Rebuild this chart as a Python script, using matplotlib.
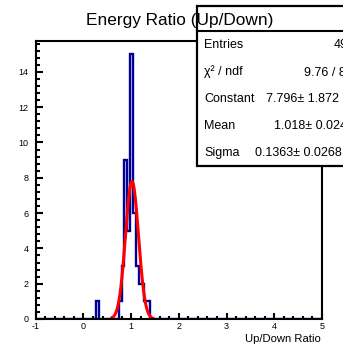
import numpy as np
import matplotlib
matplotlib.use("Agg")
import matplotlib.pyplot as plt
from matplotlib.patches import Rectangle
from matplotlib.lines import Line2D
from matplotlib.ticker import MultipleLocator

plt.rcParams['font.family'] = ['Liberation Sans', 'DejaVu Sans']

# ---- data ----
n_bins = 100
x_min, x_max = -1.0, 5.0
bin_lo = [0.26, 0.74, 0.80, 0.86, 0.92, 0.98, 1.04, 1.10, 1.16, 1.22, 1.28, 1.34]
bin_counts = [1, 1, 3, 9, 5, 15, 6, 3, 2, 2, 1, 1]

fit_constant = 7.796
fit_mean = 1.018
fit_sigma = 0.1363
fit_range = (0.60, 1.45)

stat_labels = ["Entries", "χ² / ndf", "Constant", "Mean", "Sigma"]
stat_values = ["49", "9.76 / 8", "7.796± 1.872", "1.018± 0.0246", "0.1363± 0.0268"]

title = "Energy Ratio (Up/Down)"
xlabel = "Up/Down Ratio"

# ---- figure ----
W, H = 343, 348
fig = plt.figure(figsize=(W / 100, H / 100), dpi=100)
fig.patch.set_facecolor('white')

def fx(px):
    return px / W

def fy(py):
    return 1 - py / H

ax_l, ax_r, ax_t, ax_b = 35.7, 322.0, 41.0, 319.0
ax = fig.add_axes([fx(ax_l), fy(ax_b), (ax_r - ax_l) / W, (ax_b - ax_t) / H])

edges = np.linspace(x_min, x_max, n_bins + 1)
counts = np.zeros(n_bins)
for lo, c in zip(bin_lo, bin_counts):
    idx = int(round((lo - x_min) / ((x_max - x_min) / n_bins)))
    counts[idx] = c

ax.stairs(counts, edges, color='#000099', lw=1.7, zorder=2)

xs = np.linspace(fit_range[0], fit_range[1], 300)
ys = fit_constant * np.exp(-0.5 * ((xs - fit_mean) / fit_sigma) ** 2)
ax.plot(xs, ys, color='red', lw=2.2, zorder=3)

ax.set_xlim(x_min, x_max)
ax.set_ylim(0, 15.75)

ax.xaxis.set_major_locator(MultipleLocator(1))
ax.xaxis.set_minor_locator(MultipleLocator(0.2))
ax.yaxis.set_major_locator(MultipleLocator(2))
ax.yaxis.set_minor_locator(MultipleLocator(0.4))

for s in ax.spines.values():
    s.set_linewidth(1.5)
    s.set_zorder(4)

ax.tick_params(axis='y', which='major', direction='in', length=5, width=1.5, labelsize=6.5, pad=5)
ax.tick_params(axis='y', which='minor', direction='in', length=2.8, width=1.5)
ax.tick_params(axis='x', which='major', direction='in', length=4.5, width=1.5, labelsize=6.5, pad=2.5)
ax.tick_params(axis='x', which='minor', direction='in', length=2.2, width=1.5)

ax.set_xticks(range(-1, 6))
ax.set_xticklabels([str(v) for v in range(-1, 6)])

# x label
fig.text(fx(320.7), fy(342), xlabel, ha='right', va='baseline', fontsize=8.1)

# stats box
box_l, box_t, box_b = 197.0, 6.0, 166.0
rect = Rectangle((fx(box_l), fy(box_b)), fx(W + 10 - box_l), (box_b - box_t) / H,
                 transform=fig.transFigure, facecolor='white', edgecolor='black',
                 lw=1.6, zorder=5)
fig.add_artist(rect)
fig.add_artist(Line2D([fx(box_l), 1.02], [fy(31), fy(31)], transform=fig.transFigure,
                      color='black', lw=1.5, zorder=6))

# title
fig.text(fx(180), fy(25), title, ha='center', va='baseline', fontsize=12.4, zorder=7)

row_y = [48.5, 75.5, 102.5, 129, 155.5]
val_x = [334, 304, 266, 274, 255]
for lab, val, yy, vx in zip(stat_labels, stat_values, row_y, val_x):
    fig.text(fx(204), fy(yy), lab, ha='left', va='baseline', fontsize=9, zorder=7)
    fig.text(fx(vx), fy(yy), val, ha='left', va='baseline', fontsize=9, zorder=7)

fig.savefig("out.png", dpi=100)
